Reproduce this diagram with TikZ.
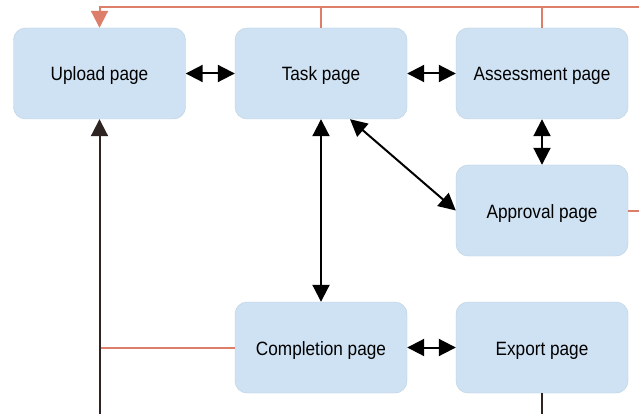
\documentclass[tikz,border=0pt]{standalone}
\usepackage{fontspec}
\setmainfont{Liberation Sans}
\usetikzlibrary{arrows.meta}
\definecolor{boxfill}{HTML}{CFE2F3}
\definecolor{boxedge}{HTML}{BCCFE0}
\definecolor{berry}{HTML}{DD7E6B}
\definecolor{darkline}{HTML}{2E2422}
% page labels are set slightly tall
\newcommand{\pagelabel}[1]{\scalebox{1}[1.12]{#1}}
\tikzset{
  pagebox/.style={rectangle, rounded corners=12pt, fill=boxfill, draw=boxedge,
    line width=0.4pt, minimum width=172pt, minimum height=91pt, inner sep=0pt,
    text height=15pt, text depth=0pt,
    font=\fontsize{17.2}{20}\selectfont},
  bidir/.style={draw=black, line width=2pt, {Triangle[length=17pt,width=17pt]}-{Triangle[length=17pt,width=17pt]}},
  toline/.style={draw=darkline, line width=2pt, -{Triangle[length=17pt,width=17pt]}},
  plain/.style={draw=darkline, line width=2pt},
  berryline/.style={draw=berry, line width=2pt},
}
\begin{document}
\begin{tikzpicture}[x=1pt, y=-1pt]
  \useasboundingbox (0,0) rectangle (639,414);
  \fill[white] (0,0) rectangle (639,414);

  % page boxes
  \node[pagebox] (up)     at (99.5,73.5)  {\pagelabel{Upload page}};
  \node[pagebox] (task)   at (321,73.5)   {\pagelabel{Task page}};
  \node[pagebox] (assess) at (542,73.5)   {\pagelabel{Assessment page}};
  \node[pagebox] (appr)   at (542,210.5)  {\pagelabel{Approval page}};
  \node[pagebox] (comp)   at (321,347.5)  {\pagelabel{Completion page}};
  \node[pagebox] (exp)    at (542,347.5)  {\pagelabel{Export page}};

  % loose ends at the edges
  \coordinate (tr) at (639,7);
  \coordinate (bl) at (99.5,414);

  % return path along the top
  \draw[berryline, -{Triangle[length=17pt,width=17pt]}] (tr) -| (up.north);
  \draw[berryline] (task.north) -- (task.north |- tr);
  \draw[berryline] (assess.north) -- (assess.north |- tr);
  \draw[berryline] (appr.east) -- (appr.east -| tr);
  \draw[berryline] (comp.west) -- (comp.west -| up.south);

  % navigation between pages
  \draw[bidir] (up) -- (task);
  \draw[bidir] (task) -- (assess);
  \draw[bidir] (assess) -- (appr);
  \draw[bidir] ([xshift=29pt]task.south) -- (appr.west);
  \draw[bidir] (task) -- (comp);
  \draw[bidir] (comp) -- (exp);

  % lines leaving the bottom edge
  \draw[toline] (bl) -- (up.south);
  \draw[plain] (exp.south) -- (exp.south |- bl);
\end{tikzpicture}
\end{document}
